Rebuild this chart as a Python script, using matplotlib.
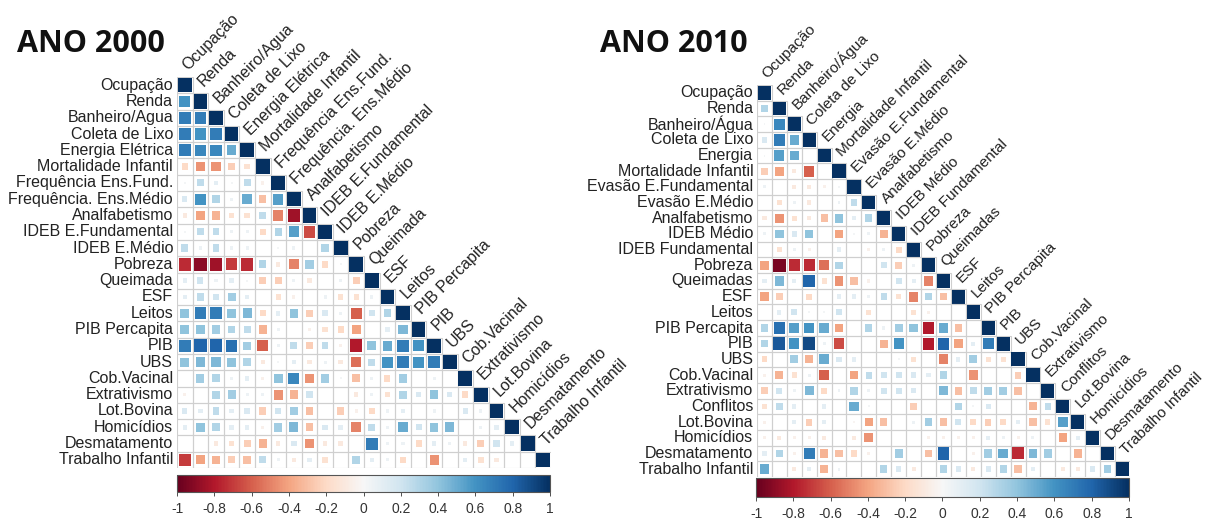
import numpy as np
import matplotlib
matplotlib.use('Agg')
import matplotlib.pyplot as plt
from matplotlib.patches import Rectangle
from matplotlib.colors import Normalize
from matplotlib.cm import ScalarMappable

plt.rcParams['font.family'] = ['Liberation Sans', 'DejaVu Sans']

# ---- data: lower triangle (row i -> correlations with cols 0..i-1), diagonal = 1
labels_2000 = ['Ocupação', 'Renda', 'Banheiro/Agua', 'Coleta de Lixo', 'Energia Elétrica',
               'Mortalidade Infantil', 'Frequência Ens.Fund.', 'Frequência. Ens.Médio',
               'Analfabetismo', 'IDEB E.Fundamental', 'IDEB E.Médio', 'Pobreza', 'Queimada',
               'ESF', 'Leitos', 'PIB Percapita', 'PIB', 'UBS', 'Cob.Vacinal', 'Extrativismo',
               'Lot.Bovina', 'Homicídios', 'Desmatamento', 'Trabalho Infantil']

corr_2000 = [
    [0.6],
    [0.7, 0.7],
    [0.7, 0.6, 0.7],
    [0.7, 0.65, 0.65, 0.5],
    [-0.2, -0.45, -0.45, -0.25, -0.15],
    [0.02, 0.25, 0.1, 0.02, 0.25, -0.05],
    [0.15, 0.6, 0.3, 0.05, 0.5, -0.3, 0.55],
    [-0.1, -0.4, -0.35, -0.15, -0.15, 0.25, -0.5, -0.85],
    [0.02, 0.25, 0.25, 0.05, 0.05, -0.2, 0.3, 0.55, -0.65],
    [0.25, 0.05, 0.25, 0.05, 0.05, 0.0, 0.02, 0.05, 0.0, 0.3],
    [-0.75, -0.9, -0.85, -0.7, -0.75, 0.3, -0.1, -0.5, 0.35, -0.2, 0.02],
    [0.1, 0.2, 0.05, 0.1, 0.02, -0.25, -0.25, 0.05, -0.1, 0.0, 0.05, -0.25],
    [0.1, 0.25, 0.2, 0.35, 0.1, 0.0, -0.15, -0.05, 0.0, 0.05, -0.15, -0.15, 0.05],
    [0.4, 0.7, 0.7, 0.4, 0.45, -0.2, 0.1, 0.4, -0.25, 0.15, 0.05, -0.6, 0.2, 0.3],
    [0.4, 0.4, 0.35, 0.3, 0.25, -0.35, 0.05, 0.0, -0.05, -0.15, -0.2, -0.4, 0.0, 0.1, 0.45],
    [0.7, 0.8, 0.8, 0.75, 0.35, -0.6, 0.05, 0.25, -0.25, 0.25, -0.05, -0.8, 0.4, 0.5, 0.7, 0.6],
    [0.4, 0.45, 0.45, 0.4, 0.3, -0.1, 0.02, 0.1, -0.1, 0.05, -0.1, -0.55, 0.25, 0.6, 0.7, 0.6, 0.7],
    [0.0, 0.35, 0.3, 0.05, 0.1, -0.05, 0.4, 0.65, -0.45, 0.35, 0.02, -0.3, 0.05, -0.2, 0.35, 0.0,
     0.05, 0.0],
    [-0.05, 0.0, 0.3, 0.35, 0.05, 0.05, -0.45, -0.35, 0.2, 0.0, 0.0, -0.1, 0.05, -0.15, 0.3, 0.15,
     0.4, 0.15, -0.2],
    [0.15, 0.1, 0.25, 0.1, 0.15, -0.25, 0.2, 0.35, -0.3, 0.0, -0.25, -0.05, -0.2, 0.05, 0.1, 0.0,
     0.05, 0.0, 0.15, 0.05],
    [0.1, 0.4, 0.3, 0.1, 0.1, -0.05, 0.35, 0.45, -0.3, 0.15, 0.1, -0.5, 0.25, 0.05, 0.5, 0.2,
     0.4, 0.45, 0.0, 0.05, 0.1],
    [0.0, 0.0, -0.1, -0.15, -0.25, -0.35, -0.1, 0.15, -0.45, -0.1, -0.1, 0.0, 0.7, 0.05, 0.05, -0.2,
     0.1, 0.05, -0.1, -0.25, 0.2, 0.1],
    [-0.7, -0.4, -0.35, -0.25, -0.3, 0.25, 0.05, -0.1, 0.1, -0.15, 0.0, 0.3, 0.1, 0.05, -0.2, 0.0,
     -0.45, 0.0, 0.1, -0.15, -0.1, 0.0, 0.0],
]

labels_2010 = ['Ocupação', 'Renda', 'Banheiro/Água', 'Coleta de Lixo', 'Energia',
               'Mortalidade Infantil', 'Evasão E.Fundamental', 'Evasão E.Médio', 'Analfabetismo',
               'IDEB Médio', 'IDEB Fundamental', 'Pobreza', 'Queimadas', 'ESF', 'Leitos',
               'PIB Percapita', 'PIB', 'UBS', 'Cob.Vacinal', 'Extrativismo', 'Conflitos',
               'Lot.Bovina', 'Homicídios', 'Desmatamento', 'Trabalho Infantil']

corr_2010 = [
    [0.3],
    [0.02, 0.65],
    [0.15, 0.7, 0.5],
    [0.02, 0.55, 0.5, 0.0],
    [-0.25, -0.4, -0.1, -0.6, 0.0],
    [0.05, 0.0, -0.1, -0.1, -0.05, 0.02],
    [0.0, -0.15, 0.05, -0.1, 0.0, 0.05, 0.25],
    [-0.1, -0.45, -0.15, -0.1, -0.3, 0.4, 0.1, 0.3],
    [0.05, 0.4, 0.15, 0.4, 0.0, -0.4, 0.02, 0.05, -0.35],
    [0.0, -0.15, 0.05, -0.05, 0.0, 0.1, 0.0, -0.05, 0.05, -0.2],
    [-0.4, -0.95, -0.75, -0.75, -0.55, 0.3, 0.0, 0.0, 0.2, -0.25, 0.05],
    [0.1, 0.45, 0.1, 0.8, -0.15, -0.45, -0.3, -0.05, 0.0, 0.2, 0.1, -0.5],
    [-0.4, -0.25, 0.0, -0.2, 0.0, 0.1, 0.1, 0.05, 0.25, -0.15, -0.5, 0.3, -0.3],
    [0.0, 0.1, 0.2, 0.02, 0.02, 0.2, 0.0, -0.15, 0.0, 0.0, -0.15, -0.05, 0.0, 0.0],
    [0.3, 0.75, 0.55, 0.6, 0.5, -0.4, 0.0, 0.3, 0.05, 0.35, 0.4, -0.8, 0.5, -0.3, 0.0],
    [0.3, 0.85, 0.6, 0.9, 0.05, -0.65, 0.0, 0.0, -0.35, 0.6, 0.0, -0.8, 0.8, -0.4, 0.1, 0.7],
    [-0.2, 0.0, 0.35, -0.35, 0.5, 0.15, 0.1, 0.0, 0.0, 0.02, -0.15, 0.0, -0.5, 0.1, 0.35, -0.15,
     -0.15],
    [-0.05, -0.35, -0.15, 0.05, -0.6, 0.0, -0.4, 0.25, 0.2, 0.2, 0.15, 0.1, 0.3, 0.0, -0.45, 0.0,
     0.0, -0.25],
    [-0.25, 0.2, 0.05, 0.45, -0.2, 0.05, 0.3, 0.05, 0.2, 0.2, 0.15, 0.0, 0.45, -0.3, 0.25, 0.35,
     0.35, -0.3, 0.0],
    [-0.15, 0.25, 0.1, 0.0, 0.1, 0.0, 0.5, 0.02, 0.0, 0.0, -0.25, 0.0, 0.0, 0.3, 0.02, 0.15,
     0.0, 0.0, -0.35, 0.25],
    [-0.05, 0.0, 0.1, -0.25, 0.1, 0.0, -0.02, -0.4, -0.3, 0.0, 0.05, 0.35, -0.3, 0.2, -0.2, -0.25,
     -0.2, 0.1, -0.3, -0.15, 0.55],
    [-0.05, -0.1, -0.05, -0.05, -0.1, 0.0, -0.1, -0.45, 0.0, 0.0, 0.0, -0.05, -0.05, -0.05, -0.05,
     0.1, 0.05, -0.05, 0.05, 0.0, -0.4, 0.1],
    [0.1, 0.3, -0.05, 0.7, -0.35, -0.3, -0.2, -0.05, 0.0, 0.35, 0.0, -0.3, 0.8, 0.0, -0.05, 0.35,
     0.5, -0.75, 0.45, 0.35, 0.0, -0.35, 0.0],
    [0.5, 0.0, -0.1, 0.1, -0.35, 0.05, 0.0, 0.0, 0.3, 0.15, -0.1, 0.0, 0.3, 0.15, -0.1, 0.15,
     0.3, -0.3, 0.1, 0.0, -0.1, -0.1, 0.15, 0.35],
]

cbar_ticks = [-1, -0.8, -0.6, -0.4, -0.2, 0, 0.2, 0.4, 0.6, 0.8, 1]

cmap = plt.cm.RdBu
norm = Normalize(-1, 1)
txt_col = '#222222'


def draw_corr(ax, labels, rows, fs, fs_top):
    n = len(labels)
    for i in range(n):
        vals = (rows[i - 1] if i > 0 else []) + [1.0]
        for j, r in enumerate(vals):
            ax.add_patch(Rectangle((j - 0.5, i - 0.5), 1, 1, fill=False,
                                   edgecolor='#cfcfcf', lw=0.8))
            s = 0.88 * np.sqrt(abs(r))
            if s > 0:
                ax.add_patch(Rectangle((j - s / 2, i - s / 2), s, s,
                                       facecolor=cmap(norm(r)), edgecolor='none'))
        ax.text(-0.75, i, labels[i], ha='right', va='center', fontsize=fs,
                color=txt_col, clip_on=False)
        ax.text(i + 0.35, i - 0.75, labels[i], ha='left', va='bottom', fontsize=fs_top,
                rotation=45, rotation_mode='anchor', color=txt_col, clip_on=False)
    ax.set_xlim(-0.5, n - 0.5)
    ax.set_ylim(n - 0.5, -0.5)
    ax.axis('off')


def draw_cbar(fig, rect):
    cax = fig.add_axes(rect)
    cb = fig.colorbar(ScalarMappable(norm=norm, cmap=cmap), cax=cax,
                      orientation='horizontal', ticks=cbar_ticks)
    cb.set_ticklabels(['%g' % t for t in cbar_ticks])
    cb.outline.set_edgecolor('#555555')
    cb.outline.set_linewidth(0.8)
    cax.tick_params(labelsize=10, length=3, width=0.6, colors='#333333', pad=4)


fig = plt.figure(figsize=(12.05, 5.21), dpi=100)

ax1 = fig.add_axes([0.1469, 0.1017, 0.3104, 0.7505])
draw_corr(ax1, labels_2000, corr_2000, 11.5, 11.5)
draw_cbar(fig, [0.1469, 0.0557, 0.3096, 0.0326])

ax2 = fig.add_axes([0.6282, 0.0845, 0.3095, 0.7524])
draw_corr(ax2, labels_2010, corr_2010, 11.5, 11)
draw_cbar(fig, [0.6274, 0.046, 0.3095, 0.0365])

fig.text(17 / 1205, 1 - 52 / 521, 'ANO 2000', fontsize=22, fontweight='bold',
         family='Open Sans', va='baseline', color='#111111')
fig.text(600 / 1205, 1 - 52 / 521, 'ANO 2010', fontsize=22, fontweight='bold',
         family='Open Sans', va='baseline', color='#111111')

fig.savefig('out.png', dpi=100)
